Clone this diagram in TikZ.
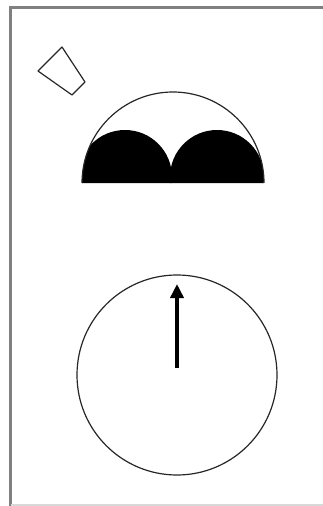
\documentclass[tikz,border=0pt]{standalone}
\usetikzlibrary{arrows.meta}
\begin{document}
\begin{tikzpicture}[x=1pt,y=1pt]
                    \useasboundingbox (0,0) rectangle (323,-506);
                    % Frame
                    \draw[gray, line width=3pt] (323,-7.5) -- (10.5,-7.5) -- (10.5,-506);
                    \draw[black!15, line width=2pt] (10.5,-504.5) -- (323,-504.5);
                    % Cup
                    \draw[black!85, line width=1.2pt, line join=round] (62,-47) -- (38,-71) -- (72,-95) -- (85,-82) -- cycle;
                    % Dome
                    \begin{scope}
                        \clip (82,-183) arc[start angle=180, end angle=0, radius=91] -- cycle;
                        \fill (125,-177) circle (47);
                        \fill (217,-177) circle (47);
                    \end{scope}
                    \draw[black!85, line width=1.2pt] (82,-183) arc[start angle=180, end angle=0, radius=91];
                    % Dial
                    \draw[black!85, line width=1.2pt] (177,-375) circle (100);
                    \coordinate (hub) at (177,-368);
                    \coordinate (tip) at (177,-284);
                    \draw[-{Triangle[length=14pt, width=13pt]}, line width=3.5pt] (hub) -- (tip);
                \end{tikzpicture}
\end{document}
